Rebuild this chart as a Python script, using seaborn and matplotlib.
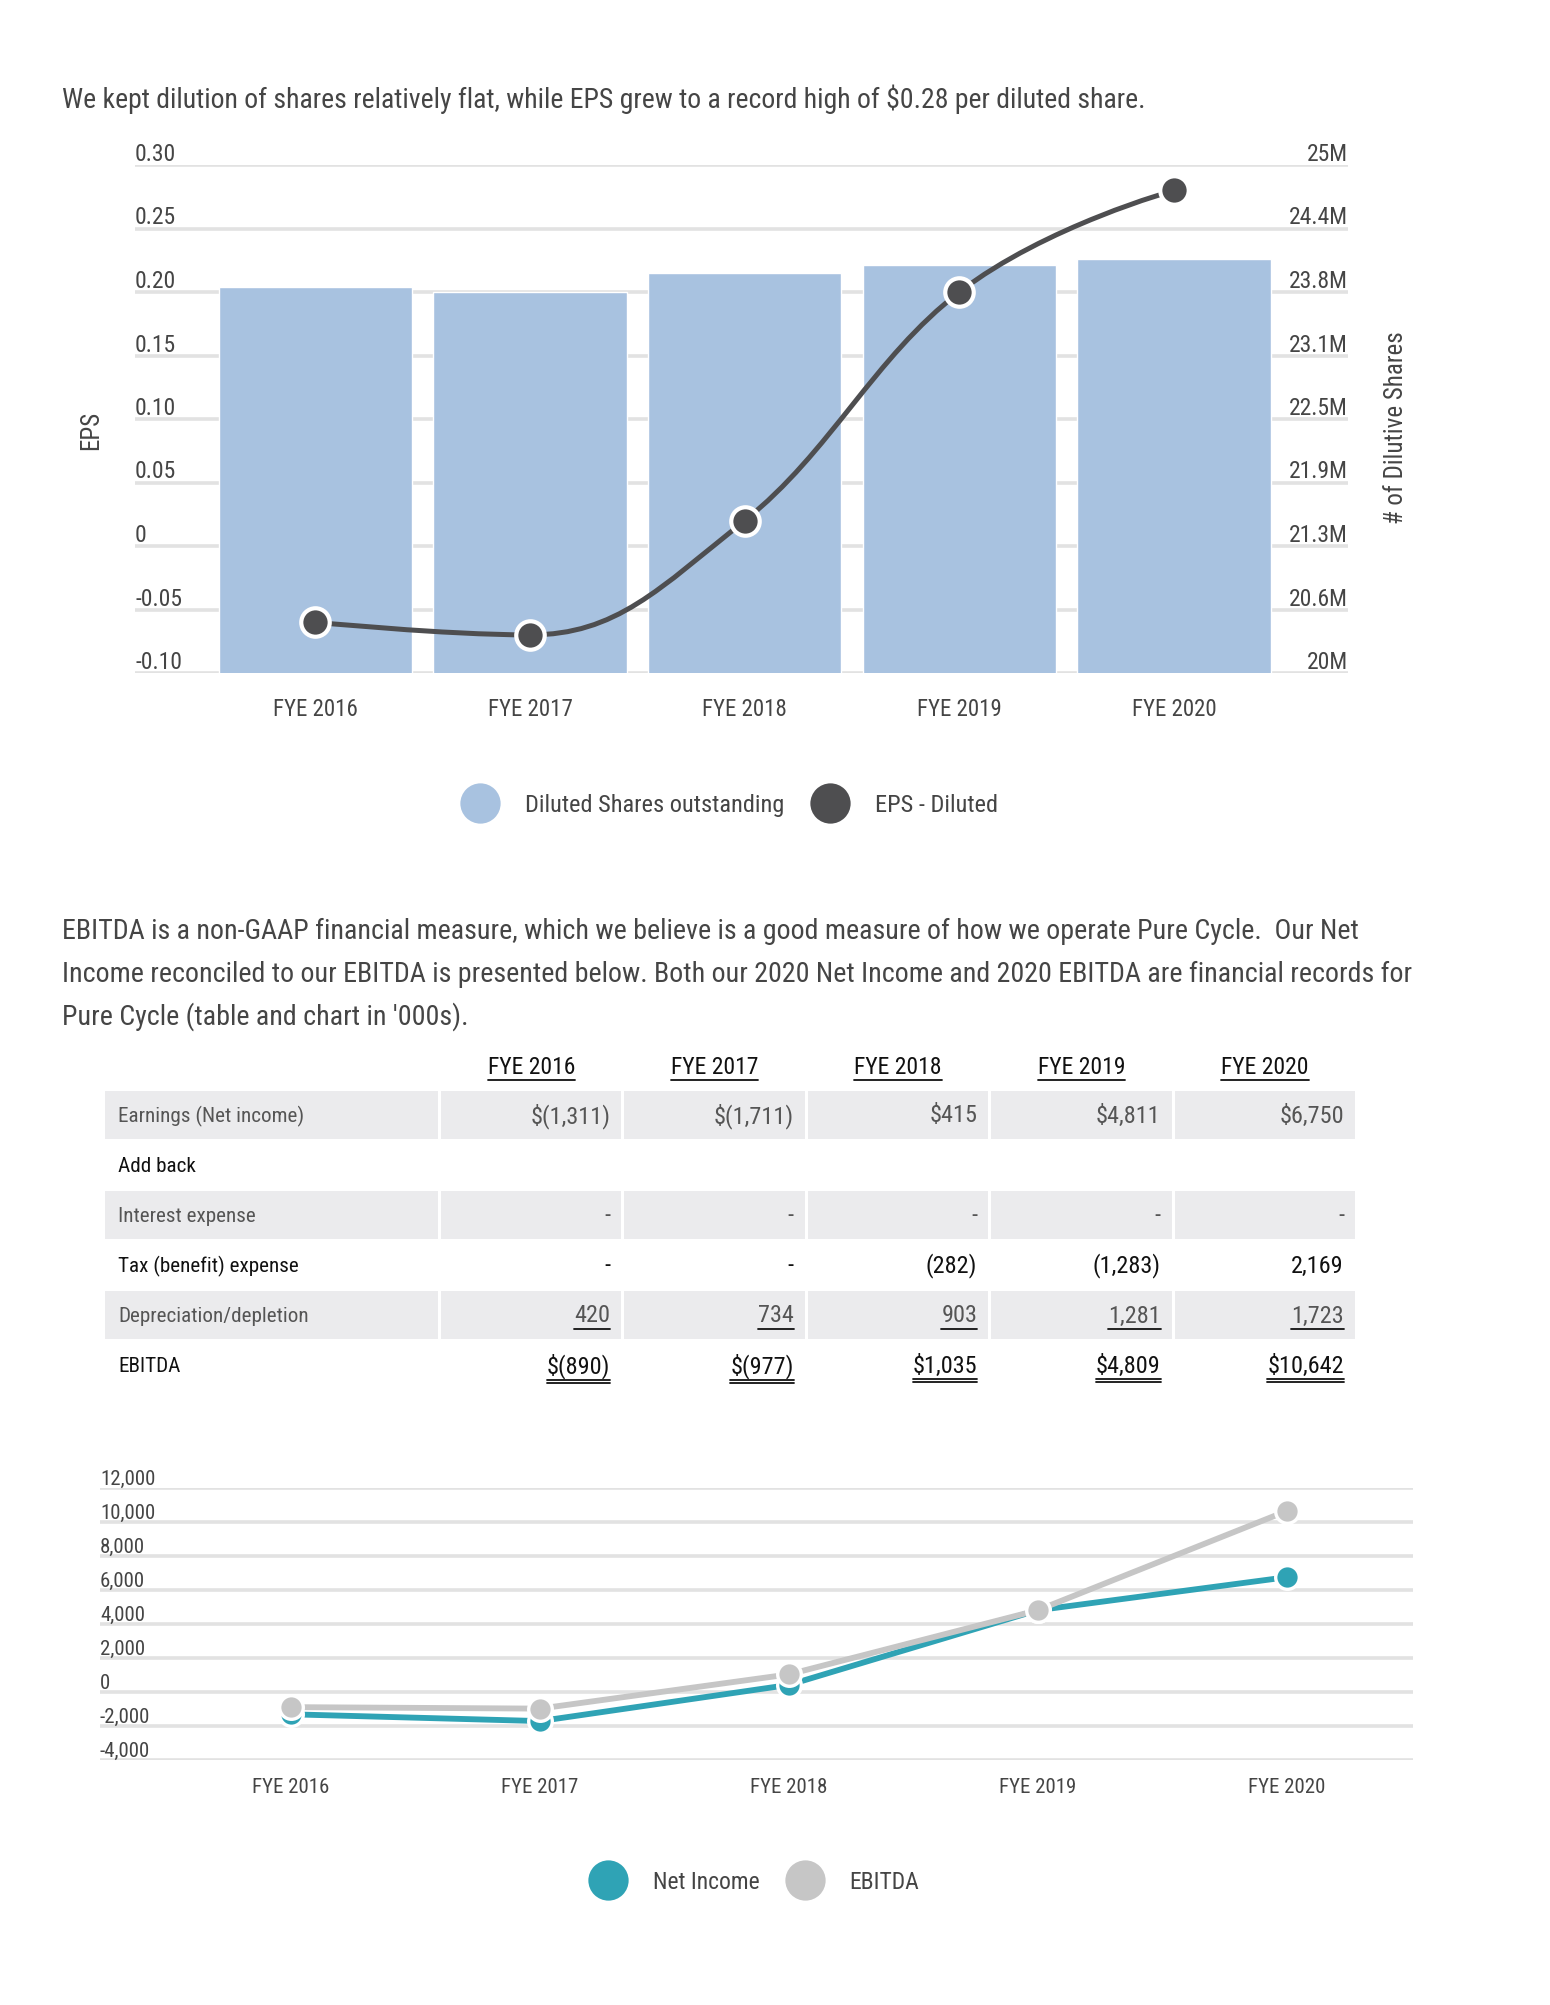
import numpy as np
import matplotlib
matplotlib.use("Agg")
import matplotlib.pyplot as plt
from matplotlib import font_manager
from matplotlib.lines import Line2D
from matplotlib.path import Path
from matplotlib.patches import PathPatch, Rectangle
import seaborn as sns

# ===== data =====
years = ["FYE 2016", "FYE 2017", "FYE 2018", "FYE 2019", "FYE 2020"]
diluted_shares_m = [23.80, 23.75, 23.94, 24.02, 24.07]
eps_diluted = [-0.06, -0.07, 0.02, 0.20, 0.28]

eps_ticks = [-0.10, -0.05, 0, 0.05, 0.10, 0.15, 0.20, 0.25, 0.30]
eps_tick_labels = ["-0.10", "-0.05", "0", "0.05", "0.10", "0.15", "0.20", "0.25", "0.30"]
shares_ticks = [20, 20.625, 21.25, 21.875, 22.5, 23.125, 23.75, 24.375, 25]
shares_tick_labels = ["20M", "20.6M", "21.3M", "21.9M", "22.5M", "23.1M", "23.8M", "24.4M", "25M"]

row_labels = ["Earnings (Net income)", "Add back", "Interest expense",
              "Tax (benefit) expense", "Depreciation/depletion", "EBITDA"]
row_values = [
    ["$(1,311)", "$(1,711)", "$415", "$4,811", "$6,750"],
    ["", "", "", "", ""],
    ["-", "-", "-", "-", "-"],
    ["-", "-", "(282)", "(1,283)", "2,169"],
    ["420", "734", "903", "1,281", "1,723"],
    ["$(890)", "$(977)", "$1,035", "$4,809", "$10,642"],
]

net_income = [-1311, -1711, 415, 4811, 6750]
ebitda = [-890, -977, 1035, 4809, 10642]
k_ticks = [-4000, -2000, 0, 2000, 4000, 6000, 8000, 10000, 12000]
k_tick_labels = ["-4,000", "-2,000", "0", "2,000", "4,000", "6,000", "8,000", "10,000", "12,000"]

title_top = "We kept dilution of shares relatively flat, while EPS grew to a record high of $0.28 per diluted share."
para_lines = [
    "EBITDA is a non-GAAP financial measure, which we believe is a good measure of how we operate Pure Cycle.  Our Net",
    "Income reconciled to our EBITDA is presented below. Both our 2020 Net Income and 2020 EBITDA are financial records for",
    "Pure Cycle (table and chart in '000s).",
]

# ===== colours / fonts =====
BAR = "#a8c2e0"
EPS_C = "#4e4e50"
TEAL = "#2fa3b5"
GREY = "#c6c6c6"
GRID = "#e2e2e2"
TXT = "#454545"

sns.set_theme(style="white")
names = {f.name for f in font_manager.fontManager.ttflist}
narrow = next((n for n in ["Roboto Condensed", "Liberation Sans Narrow", "Open Sans Condensed"] if n in names), "Roboto")
plt.rcParams["font.family"] = [narrow, "DejaVu Sans"]

fig = plt.figure(figsize=(15.5, 20.06), dpi=100)
W, H = 1550, 2006

def rect(x0, y0, x1, y1):
    # pixel box (top-left origin) -> figure fraction
    return [x0 / W, 1 - y1 / H, (x1 - x0) / W, (y1 - y0) / H]

# ===== top chart: diluted shares (bars) + EPS (spline) =====
ax_eps = fig.add_axes(rect(135, 166, 1348, 674))
ax_sh = ax_eps.twinx()
sns.barplot(x=years, y=diluted_shares_m, ax=ax_sh, color=BAR, width=0.9, saturation=1)
ax_sh.set_ylim(20, 25)
ax_sh.set_yticks(shares_ticks, shares_tick_labels, ha="right", va="bottom")
ax_sh.tick_params(axis="y", length=0, pad=0, labelsize=17, labelcolor=TXT)
ax_sh.grid(axis="y", color=GRID, lw=2.6)
ax_sh.set_axisbelow(True)
ax_sh.set_ylabel("# of Dilutive Shares", fontsize=18, color=TXT)
ax_sh.yaxis.set_label_coords(1.030, 0.485)

ax_eps.set_zorder(ax_sh.get_zorder() + 1)
ax_eps.patch.set_visible(False)


def spline_path(xs, ys, smoothing=1.5):
    # highcharts-like spline through the points
    n = len(xs)
    left = list(zip(xs, ys))
    right = list(zip(xs, ys))
    d = smoothing + 1
    for i in range(1, n - 1):
        px, py = xs[i], ys[i]
        lx, ly = xs[i - 1], ys[i - 1]
        nx, ny = xs[i + 1], ys[i + 1]
        lcx, lcy = (smoothing * px + lx) / d, (smoothing * py + ly) / d
        rcx, rcy = (smoothing * px + nx) / d, (smoothing * py + ny) / d
        corr = (rcy - lcy) * (rcx - px) / (rcx - lcx) + py - rcy
        lcy += corr
        rcy += corr
        if lcy > ly and lcy > py:
            lcy = max(ly, py); rcy = 2 * py - lcy
        elif lcy < ly and lcy < py:
            lcy = min(ly, py); rcy = 2 * py - lcy
        if rcy > ny and rcy > py:
            rcy = max(ny, py); lcy = 2 * py - rcy
        elif rcy < ny and rcy < py:
            rcy = min(ny, py); lcy = 2 * py - rcy
        left[i] = (lcx, lcy)
        right[i] = (rcx, rcy)
    verts = [(xs[0], ys[0])]
    codes = [Path.MOVETO]
    for i in range(1, n):
        verts += [right[i - 1], left[i], (xs[i], ys[i])]
        codes += [Path.CURVE4] * 3
    return Path(verts, codes)


xpos = np.arange(len(years))
ax_eps.add_patch(PathPatch(spline_path(list(xpos), eps_diluted), fill=False, ec=EPS_C, lw=3.6, zorder=2))
sns.scatterplot(x=xpos, y=eps_diluted, ax=ax_eps, color=EPS_C, s=420, edgecolor="white", linewidth=3, zorder=3)
ax_eps.set_ylim(-0.10, 0.30)
ax_eps.set_yticks(eps_ticks, eps_tick_labels, ha="left", va="bottom")
ax_eps.tick_params(axis="y", length=0, pad=0, labelsize=17, labelcolor=TXT)
ax_eps.set_xticks(xpos, years)
ax_eps.tick_params(axis="x", length=0, pad=17, labelsize=16.5, labelcolor=TXT)
ax_eps.set_xlim(-0.84, 4.81)
ax_eps.set_ylabel("EPS", fontsize=18, color=TXT)
ax_eps.yaxis.set_label_coords(-0.026, 0.48)
for a in (ax_eps, ax_sh):
    sns.despine(ax=a, left=True, right=True, top=True, bottom=True)

fig.legend(handles=[
    Line2D([], [], ls="", marker="o", markersize=29, mfc=BAR, mec="none", label="Diluted Shares outstanding"),
    Line2D([], [], ls="", marker="o", markersize=29, mfc=EPS_C, mec="none", label="EPS - Diluted"),
], loc="center", bbox_to_anchor=(727 / W, 1 - 806 / H), ncol=2, frameon=False,
    fontsize=17.6, labelcolor=TXT, handletextpad=0.85, columnspacing=0.85)

# ===== texts + table =====
tab = fig.add_axes([0, 0, 1, 1])
tab.set_xlim(0, W)
tab.set_ylim(H, 0)
tab.axis("off")
tab.patch.set_visible(False)

tab.text(62, 99, title_top, fontsize=20, color=TXT, va="center")
for i, line in enumerate(para_lines):
    tab.text(62, 931 + 43 * i, line, fontsize=20.2, color=TXT, va="center")

col_left = [441 + 183.4 * i for i in range(5)]
col_w = 180.4
row_top = [1092 + 50 * i for i in range(6)]
row_h = 48
shaded = [0, 2, 4]

renderer = fig.canvas.get_renderer()


def underline(t, double=False):
    bb = t.get_window_extent(renderer)
    (x0, y0), (x1, _) = tab.transData.inverted().transform([[bb.x0, bb.y0], [bb.x1, bb.y1]])
    tab.plot([x0, x1], [y0 + 2, y0 + 2], color="#111111", lw=1.3)
    if double:
        tab.plot([x0, x1], [y0 + 5, y0 + 5], color="#111111", lw=1.3)


for j, yr in enumerate(years):
    t = tab.text(col_left[j] + col_w / 2, 1067, yr, fontsize=17, color="#111111", ha="center", va="center")
    underline(t)

for i, lab in enumerate(row_labels):
    y = row_top[i]
    c = "#555555" if i in shaded else "#111111"
    if i in shaded:
        tab.add_patch(Rectangle((105, y), 333, row_h, color="#ebebed", lw=0))
        for j in range(5):
            tab.add_patch(Rectangle((col_left[j], y), col_w, row_h, color="#ebebed", lw=0))
    tab.text(118, y + row_h / 2, lab, fontsize=15.2, color=c, va="center")
    for j, v in enumerate(row_values[i]):
        if not v:
            continue
        t = tab.text(col_left[j] + col_w - 11, y + row_h / 2, v, fontsize=17.5, color=c, ha="right", va="center")
        if i == 4:
            underline(t)
        elif i == 5:
            underline(t, double=True)

# ===== bottom chart: net income vs EBITDA =====
ax_k = fig.add_axes(rect(100, 1489, 1413, 1761))
sns.lineplot(x=xpos, y=net_income, ax=ax_k, color=TEAL, lw=4.2, marker="o", markersize=17,
             markeredgecolor="white", markeredgewidth=2.4, zorder=3)
sns.lineplot(x=xpos, y=ebitda, ax=ax_k, color=GREY, lw=4.2, marker="o", markersize=17,
             markeredgecolor="white", markeredgewidth=2.4, zorder=4)
ax_k.set_ylim(-4000, 12000)
ax_k.set_xlim(-0.767, 4.508)
ax_k.set_yticks(k_ticks, k_tick_labels, ha="left", va="bottom")
ax_k.tick_params(axis="y", length=0, pad=0, labelsize=15, labelcolor=TXT)
ax_k.set_xticks(xpos, years)
ax_k.tick_params(axis="x", length=0, pad=12, labelsize=15, labelcolor=TXT)
ax_k.grid(axis="y", color=GRID, lw=2.6)
ax_k.set_axisbelow(True)
sns.despine(ax=ax_k, left=True, right=True, top=True, bottom=True)

fig.legend(handles=[
    Line2D([], [], ls="", marker="o", markersize=29, mfc=TEAL, mec="none", label="Net Income"),
    Line2D([], [], ls="", marker="o", markersize=29, mfc=GREY, mec="none", label="EBITDA"),
], loc="center", bbox_to_anchor=(752 / W, 1 - 1883 / H), ncol=2, frameon=False,
    fontsize=17, labelcolor=TXT, handletextpad=0.9, columnspacing=0.9)

fig.savefig("out.png", dpi=100, facecolor="white")
